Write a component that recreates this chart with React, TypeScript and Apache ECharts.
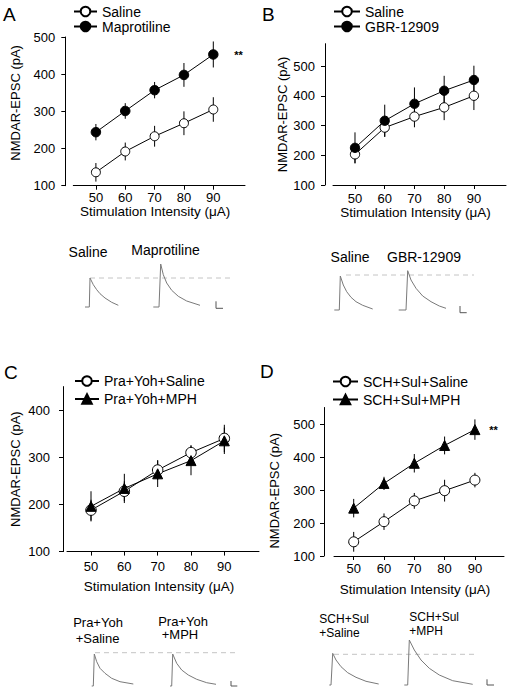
import React, { useEffect, useRef } from "react";
import * as echarts from "echarts";

const FONT = "'Liberation Sans', Arial, Helvetica, sans-serif";

// x categories (stimulation intensity, µA)
const intensities = [50, 60, 70, 80, 90];
const xTicks = [50, 60, 70, 80, 90];
const yTicks5 = [100, 200, 300, 400, 500];
const yTicks4 = [100, 200, 300, 400];

// Panel A
const aSalineMean = [136, 192, 233, 268, 305];
const aSalineSem = [25, 24, 28, 32, 33];
const aMaproMean = [244, 301, 357, 398, 453];
const aMaproSem = [22, 21, 22, 32, 35];
// Panel B
const bSalineMean = [203, 293, 330, 361, 400];
const bSalineSem = [30, 31, 36, 43, 48];
const bGbrMean = [225, 316, 373, 417, 453];
const bGbrSem = [52, 54, 55, 50, 48];
// Panel C
const cSalineMean = [188, 228, 273, 310, 340];
const cSalineSem = [22, 21, 21, 16, 29];
const cMphMean = [196, 234, 265, 293, 335];
const cMphSem = [32, 31, 28, 31, 28];
// Panel D
const dSalineMean = [143, 204, 267, 298, 330];
const dSalineSem = [30, 25, 24, 33, 22];
const dMphMean = [245, 320, 381, 435, 483];
const dMphSem = [28, 20, 28, 27, 31];

// Representative traces: [time, amplitude]
const traceASaline = [[5, 0], [9.3, 0], [10, 29], [13.3, 22.3], [16.7, 17.3], [20, 13.3], [25, 9], [31.7, 4.7], [38.3, 1.7]];
const traceAMapro = [[73.3, 0], [79, 0], [80.7, 43], [83.3, 32.3], [86.7, 24], [91.7, 16.7], [98.3, 10.7], [106.7, 6], [120, 1.7]];
const refA = [[10, 29], [153, 29]];
const scaleA = [[136, 5.7], [136, -1.3], [143, -1.3]];

const traceBSaline = [[4.3, 0], [9.3, 0], [10.3, 34], [13.3, 25], [16.7, 18.3], [21, 12.7], [26, 8.3], [32.7, 4.7], [42.7, 1]];
const traceBGbr = [[68.7, 0], [76, 0], [77.7, 39.3], [81, 30], [86, 21.7], [92.7, 14], [101, 8.3], [109.3, 4], [116, 1.7]];
const refB = [[16, 35], [144, 35]];
const scaleB = [[130, 4], [130, -2.7], [136.7, -2.7]];

const traceCSaline = [[11.7, 0], [13.3, 0], [14.3, 32], [16.7, 24.3], [20, 17.7], [25, 12.7], [31.7, 7.7], [40, 4.3], [53.3, 2]];
const traceCMph = [[90, 0], [91.7, 0], [92.7, 32], [96.7, 22.7], [101.7, 16], [108.3, 11], [116.7, 6.7], [126.7, 3.3], [136, 1.7]];
const refC = [[15, 33.3], [157, 33.3]];
const scaleC = [[151, 5], [151, 0], [157.3, 0]];

const traceDSaline = [[9.3, 0], [11, 0], [12.7, 31.7], [16, 25], [21, 18.3], [27.7, 12.3], [36, 7.7], [46, 3.7], [58.7, 1]];
const traceDMph = [[84.3, 0], [87.7, 0], [89.3, 45], [94.3, 35], [101, 25], [109.3, 16.7], [119.3, 10], [132.7, 4.3], [152.7, 0.7]];
const refD = [[14, 30.7], [158, 30.7]];
const scaleD = [[167, 5.7], [167, 0], [174, 0]];

function meanSeries(name: string, gi: number, mean: number[], symbol: string, filled: boolean, size: number) {
  return {
    type: "line",
    name,
    xAxisIndex: gi,
    yAxisIndex: gi,
    data: intensities.map((x, i) => [x, mean[i]]),
    symbol,
    symbolSize: size,
    showSymbol: true,
    lineStyle: { color: "#000", width: 1 },
    itemStyle: { color: filled ? "#000" : "#fff", borderColor: "#000", borderWidth: 1 },
    emphasis: { disabled: true },
    z: 3,
  };
}

function errSeries(gi: number, mean: number[], sem: number[]) {
  return {
    type: "custom",
    xAxisIndex: gi,
    yAxisIndex: gi,
    data: intensities.map((x, i) => [x, mean[i] - sem[i], mean[i] + sem[i]]),
    encode: { x: 0, y: [1, 2] },
    clip: false,
    z: 1,
    renderItem: (_p: any, api: any) => {
      const x = api.value(0);
      const p1 = api.coord([x, api.value(1)]);
      const p2 = api.coord([x, api.value(2)]);
      return {
        type: "line",
        shape: { x1: p1[0], y1: p1[1], x2: p2[0], y2: p2[1] },
        style: { stroke: "#000", lineWidth: 1 },
      };
    },
  };
}

function traceSeries(gi: number, data: number[][], kind: "trace" | "ref" | "scale") {
  const style =
    kind === "trace"
      ? { color: "#7a7a7a", width: 1 }
      : kind === "ref"
      ? { color: "#c4c4c4", width: 1, type: [5, 4] }
      : { color: "#555", width: 1 };
  return {
    type: "line",
    xAxisIndex: gi,
    yAxisIndex: gi,
    data,
    showSymbol: false,
    symbol: "none",
    lineStyle: style,
    silent: true,
    z: 2,
  };
}

function xAxisMain(gi: number, min: number, max: number, labelMargin: number, nameGap: number) {
  return {
    type: "value",
    gridIndex: gi,
    min,
    max,
    name: "Stimulation Intensity (μA)",
    nameLocation: "middle",
    nameGap,
    nameTextStyle: { fontSize: 13.5, fontFamily: FONT, color: "#000", padding: [0, 8, 0, 0] },
    axisLine: { show: true, onZero: false, lineStyle: { color: "#000", width: 1 } },
    axisTick: { show: true, length: 4, customValues: xTicks, lineStyle: { color: "#000" } },
    axisLabel: { customValues: xTicks, margin: labelMargin, fontSize: 13, fontFamily: FONT, color: "#000" },
    splitLine: { show: false },
  };
}

function yAxisMain(gi: number, max: number, ticks: number[], offset: number, labelMargin: number, nameGap: number, pad: number[]) {
  return {
    type: "value",
    gridIndex: gi,
    min: 100,
    max,
    offset,
    name: "NMDAR-EPSC (pA)",
    nameLocation: "middle",
    nameRotate: 90,
    nameGap,
    nameTextStyle: { fontSize: 13, fontFamily: FONT, color: "#000", padding: pad },
    axisLine: { show: true, onZero: false, lineStyle: { color: "#000", width: 1 } },
    axisTick: { show: true, length: 4, customValues: ticks, lineStyle: { color: "#000" } },
    axisLabel: { customValues: ticks, margin: labelMargin, fontSize: 13, fontFamily: FONT, color: "#000" },
    splitLine: { show: false },
  };
}

function hiddenAxis(gi: number, min: number, max: number) {
  return { type: "value", gridIndex: gi, min, max, show: false, splitLine: { show: false } };
}

function legend(left: number, top: number, itemWidth: number, itemGap: number, data: string[]) {
  return {
    orient: "vertical",
    left,
    top,
    itemWidth,
    itemHeight: 12,
    itemGap,
    padding: 0,
    selectedMode: false,
    data,
    textStyle: { fontSize: 14, lineHeight: 14, fontFamily: FONT, color: "#000" },
  };
}

function txt(text: string, x: number, y: number, size: number, align = "center", weight = "normal") {
  return {
    type: "text",
    x,
    y,
    silent: true,
    style: {
      text,
      fontSize: size,
      fontFamily: FONT,
      fontWeight: weight,
      fill: "#000",
      textAlign: align,
      textVerticalAlign: "middle",
    },
  };
}

function buildOption() {
  return {
    animation: false,
    backgroundColor: "#fff",
    grid: [
      { left: 73.3, top: 37, width: 171.7, height: 148.7 },
      { left: 333, top: 43.7, width: 173, height: 141.3 },
      { left: 67, top: 386.6, width: 192, height: 165 },
      { left: 334, top: 407.5, width: 170, height: 148.5 },
      { left: 80, top: 252, width: 160, height: 60 },
      { left: 330, top: 255, width: 160, height: 60 },
      { left: 80, top: 631, width: 160, height: 60 },
      { left: 320, top: 630, width: 180, height: 60 },
    ],
    xAxis: [
      xAxisMain(0, 42.3, 100.8, 5, 19),
      xAxisMain(1, 42.6, 100.8, 7, 20),
      xAxisMain(2, 42.8, 100.4, 8, 28),
      xAxisMain(3, 43.5, 99.6, 6, 26),
      hiddenAxis(4, 0, 160),
      hiddenAxis(5, 0, 160),
      hiddenAxis(6, 0, 160),
      hiddenAxis(7, 0, 180),
    ],
    yAxis: [
      yAxisMain(0, 500, yTicks5, 8, 10, 43, [0, 0, 0, 17]),
      yAxisMain(1, 575, yTicks5, 8, 10, 32, [0, 0, 0, 0]),
      yAxisMain(2, 450, yTicks4, 4, 13, 41, [0, 0, 0, 0]),
      yAxisMain(3, 550, yTicks5, 10, 9, 43, [0, 18, 0, 0]),
      hiddenAxis(4, -5, 55),
      hiddenAxis(5, -5, 55),
      hiddenAxis(6, -5, 55),
      hiddenAxis(7, -5, 55),
    ],
    legend: [
      legend(73, 4.5, 23, 1, ["Saline", "Maprotiline"]),
      legend(333, 4.5, 26, 1, ["Saline", "GBR-12909"]),
      legend(74, 374, 24, 4, ["Pra+Yoh+Saline", "Pra+Yoh+MPH"]),
      legend(332, 374.5, 25, 4, ["SCH+Sul+Saline", "SCH+Sul+MPH"]),
    ],
    series: [
      errSeries(0, aSalineMean, aSalineSem),
      errSeries(0, aMaproMean, aMaproSem),
      meanSeries("Saline", 0, aSalineMean, "circle", false, 9),
      meanSeries("Maprotiline", 0, aMaproMean, "circle", true, 9.5),

      errSeries(1, bSalineMean, bSalineSem),
      errSeries(1, bGbrMean, bGbrSem),
      meanSeries("Saline", 1, bSalineMean, "circle", false, 9.3),
      meanSeries("GBR-12909", 1, bGbrMean, "circle", true, 9.3),

      errSeries(2, cSalineMean, cSalineSem),
      errSeries(2, cMphMean, cMphSem),
      meanSeries("Pra+Yoh+Saline", 2, cSalineMean, "circle", false, 10.5),
      meanSeries("Pra+Yoh+MPH", 2, cMphMean, "triangle", true, 10),

      errSeries(3, dSalineMean, dSalineSem),
      errSeries(3, dMphMean, dMphSem),
      meanSeries("SCH+Sul+Saline", 3, dSalineMean, "circle", false, 10),
      meanSeries("SCH+Sul+MPH", 3, dMphMean, "triangle", true, 10),

      traceSeries(4, refA, "ref"),
      traceSeries(4, traceASaline, "trace"),
      traceSeries(4, traceAMapro, "trace"),
      traceSeries(4, scaleA, "scale"),

      traceSeries(5, refB, "ref"),
      traceSeries(5, traceBSaline, "trace"),
      traceSeries(5, traceBGbr, "trace"),
      traceSeries(5, scaleB, "scale"),

      traceSeries(6, refC, "ref"),
      traceSeries(6, traceCSaline, "trace"),
      traceSeries(6, traceCMph, "trace"),
      traceSeries(6, scaleC, "scale"),

      traceSeries(7, refD, "ref"),
      traceSeries(7, traceDSaline, "trace"),
      traceSeries(7, traceDMph, "trace"),
      traceSeries(7, scaleD, "scale"),
    ],
    graphic: [
      txt("A", 3, 14, 19, "left"),
      txt("B", 262, 14, 19, "left"),
      txt("C", 4, 372, 19, "left"),
      txt("D", 260, 371, 19, "left"),
      txt("**", 238.5, 55, 11, "center", "bold"),
      txt("**", 493.5, 430, 11, "center", "bold"),
      txt("Saline", 88, 252, 14),
      txt("Maprotiline", 165.5, 250, 14),
      txt("Saline", 350, 257, 14),
      txt("GBR-12909", 424, 257, 14),
      txt("Pra+Yoh", 98, 622.5, 13),
      txt("+Saline", 97.5, 638.5, 13),
      txt("Pra+Yoh", 183, 621, 13),
      txt("+MPH", 180, 634.5, 13),
      txt("SCH+Sul", 319.3, 619.3, 12, "left"),
      txt("+Saline", 319.3, 633, 12, "left"),
      txt("SCH+Sul", 409.3, 617, 12, "left"),
      txt("+MPH", 409.3, 631, 12, "left"),
    ],
  };
}

export default function App() {
  const ref = useRef<HTMLDivElement>(null);
  useEffect(() => {
    document.body.style.margin = "0";
    const chart = echarts.init(ref.current!, null, { renderer: "svg" });
    chart.setOption(buildOption() as any);
    return () => chart.dispose();
  }, []);
  return <div ref={ref} style={{ width: 512, height: 692, background: "#fff" }} />;
}
